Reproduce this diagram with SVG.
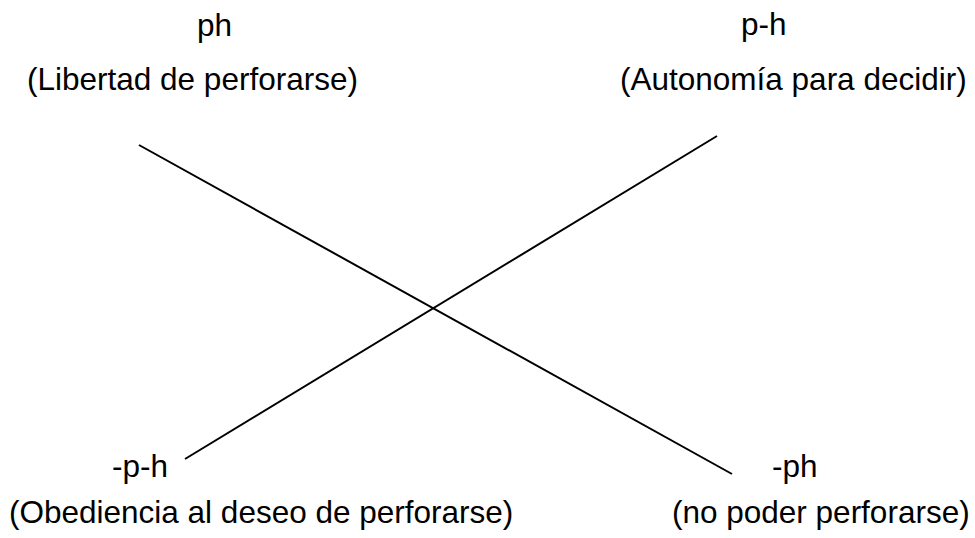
<svg xmlns="http://www.w3.org/2000/svg" width="975" height="538" viewBox="0 0 975 538">
<style>
text{font-family:"Liberation Sans",Arial,sans-serif;font-size:31.5px;fill:#000}
.ln{stroke:#000;stroke-width:2;fill:none}
</style>
<rect width="975" height="538" fill="#fff"/>
<g id="connectors">
<line class="ln" x1="139" y1="145" x2="732" y2="474"/>
<line class="ln" x1="185" y1="459" x2="717" y2="136"/>
</g>
<g id="node-ph">
<text x="197" y="36">ph</text>
<text x="27" y="90">(Libertad de perforarse)</text>
</g>
<g id="node-p-h">
<text x="741" y="35">p-h</text>
<text x="620" y="90">(Autonomía para decidir)</text>
</g>
<g id="node-neg-p-h">
<text x="112" y="477">-p-h</text>
<text x="9" y="523">(Obediencia al deseo de perforarse)</text>
</g>
<g id="node-neg-ph">
<text x="772" y="477">-ph</text>
<text x="672" y="523">(no poder perforarse)</text>
</g>
</svg>
